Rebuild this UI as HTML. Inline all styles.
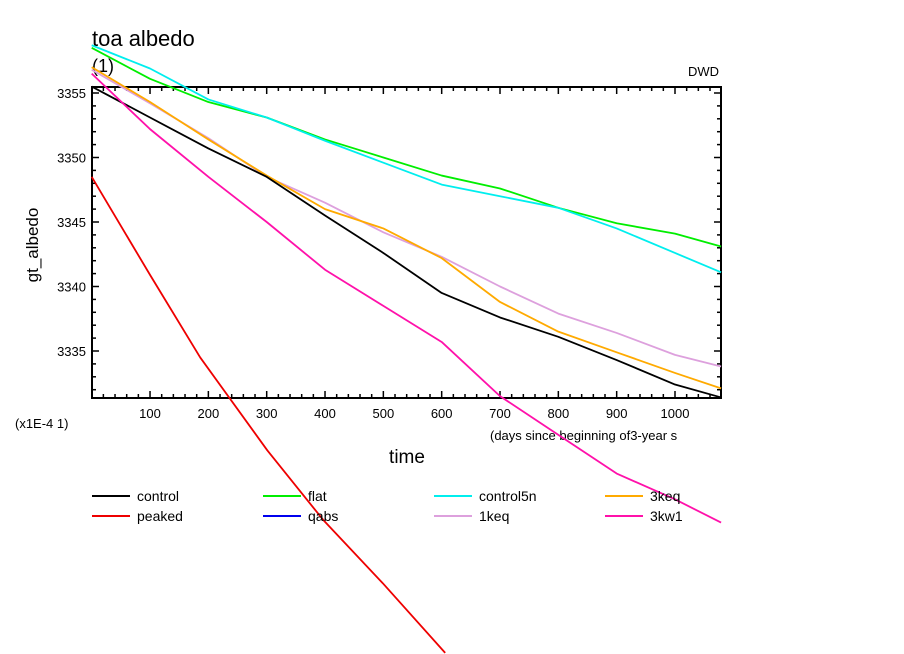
<!DOCTYPE html>
<html><head><meta charset="utf-8"><style>
body{margin:0;background:#fff;}
svg{display:block;font-family:"Liberation Sans",sans-serif;}
</style></head><body>
<svg id="c" width="904" height="654" xmlns="http://www.w3.org/2000/svg">
<text x="92" y="46" font-size="22">toa albedo</text>
<text x="92" y="72" font-size="18">(1)</text>
<text x="688" y="76" font-size="13">DWD</text>
<text transform="translate(38,245) rotate(-90)" text-anchor="middle" font-size="17">gt_albedo</text>
<text x="15" y="428" font-size="13">(x1E-4 1)</text>
<text x="490" y="440" font-size="13">(days since beginning of3-year s</text>
<text x="407" y="463" text-anchor="middle" font-size="19">time</text>
<g id="axes"></g><g id="series"></g><g id="legend"></g>
</svg>
<script>
const days=[0,100,200,300,400,500,600,700,800,900,1000,1079];
const control=[3355.5,3353.1,3350.7,3348.5,3345.5,3342.6,3339.5,3337.6,3336.1,3334.3,3332.4,3331.4];
const flat=[3358.5,3356.1,3354.3,3353.1,3351.4,3350.0,3348.6,3347.6,3346.1,3344.9,3344.1,3343.1];
const control5n=[3358.7,3356.9,3354.5,3353.1,3351.3,3349.6,3347.9,3347.0,3346.1,3344.5,3342.6,3341.1];
const keq3=[3357.0,3354.3,3351.4,3348.6,3346.0,3344.5,3342.2,3338.8,3336.5,3334.9,3333.3,3332.1];
const keq1=[3356.8,3354.2,3351.5,3348.5,3346.5,3344.2,3342.3,3340.0,3337.9,3336.4,3334.7,3333.8];
const kw1=[3356.5,3352.2,3348.5,3345.0,3341.3,3338.5,3335.7,3331.5,3328.5,3325.5,3323.5,3321.7];
const peakedDays=[0,100,186,301,397,499,606];
const peaked=[3348.5,3340.9,3334.5,3327.3,3321.9,3317.0,3311.6];
const xTicks=[100,200,300,400,500,600,700,800,900,1000];
const yTicks=[3335,3340,3345,3350,3355];
const names=["control","flat","control5n","3keq","peaked","qabs","1keq","3kw1"];
const colors=["#000","#00ee00","#00eeee","#ffaa00","#ee0000","#0000ee","#dda0dd","#ff11aa"];
const NS="http://www.w3.org/2000/svg";
const X0=92,X1=721,Y0=87,Y1=398;
const xs=d=>91.7+d*0.5833;
const ys=v=>93+(3355-v)*12.9;
function el(t,a,p){const e=document.createElementNS(NS,t);for(const k in a)e.setAttribute(k,a[k]);p.appendChild(e);return e;}
const ax=document.getElementById('axes');
const fr=el('rect',{x:X0,y:Y0,width:X1-X0,height:Y1-Y0,fill:'none',stroke:'#000','stroke-width':2},ax);


for(let d=20;d<1079;d+=20){const major=d%100===0;const L=major?7:4;
 const x=xs(d);
 const t1=el('line',{x1:x,x2:x,y1:Y1,y2:Y1-L,stroke:'#000','stroke-width':1.5},ax);
 
 
 const t2=el('line',{x1:x,x2:x,y1:Y0,y2:Y0+L,stroke:'#000','stroke-width':1.5},ax);
 
 }
xTicks.forEach(d=>{const t=el('text',{x:xs(d),y:418,'text-anchor':'middle','font-size':13},ax);t.textContent=d;
 
 });
for(let v=3332;v<=3355;v++){const major=v%5===0;const L=major?7:4;const y=ys(v);
 const t1=el('line',{x1:X0,x2:X0+L,y1:y,y2:y,stroke:'#000','stroke-width':1.5},ax);
 
 
 const t2=el('line',{x1:X1,x2:X1-L,y1:y,y2:y,stroke:'#000','stroke-width':1.5},ax);
 
 }
yTicks.forEach(v=>{const t=el('text',{x:86,y:ys(v)+5,'text-anchor':'end','font-size':13},ax);t.textContent=v;
 
 });
const sg=document.getElementById('series');
function line(dd,vals,col,name){const p=el('polyline',{points:dd.map((d,i)=>xs(d)+','+ys(vals[i])).join(' '),fill:'none',stroke:col,'stroke-width':1.8,'stroke-linejoin':'round'},sg);
 
 }
line(days,flat,colors[1],'series-flat');
line(days,control5n,colors[2],'series-control5n');
line(days,keq1,colors[6],'series-1keq');
line(days,keq3,colors[3],'series-3keq');
line(days,control,colors[0],'series-control');
line(days,kw1,colors[7],'series-3kw1');
line(peakedDays,peaked,colors[4],'series-peaked');
const lg=document.getElementById('legend');
names.forEach((n,i)=>{const col=i%4,row=Math.floor(i/4);const x=92+col*171,y=496+row*20;
 const g=el('g',{},lg);
 
 
 el('line',{x1:x,x2:x+38,y1:y,y2:y,stroke:colors[i],'stroke-width':2},g);
 const t=el('text',{x:x+45,y:y+5,'font-size':14},g);t.textContent=n;});
</script>
</body></html>
